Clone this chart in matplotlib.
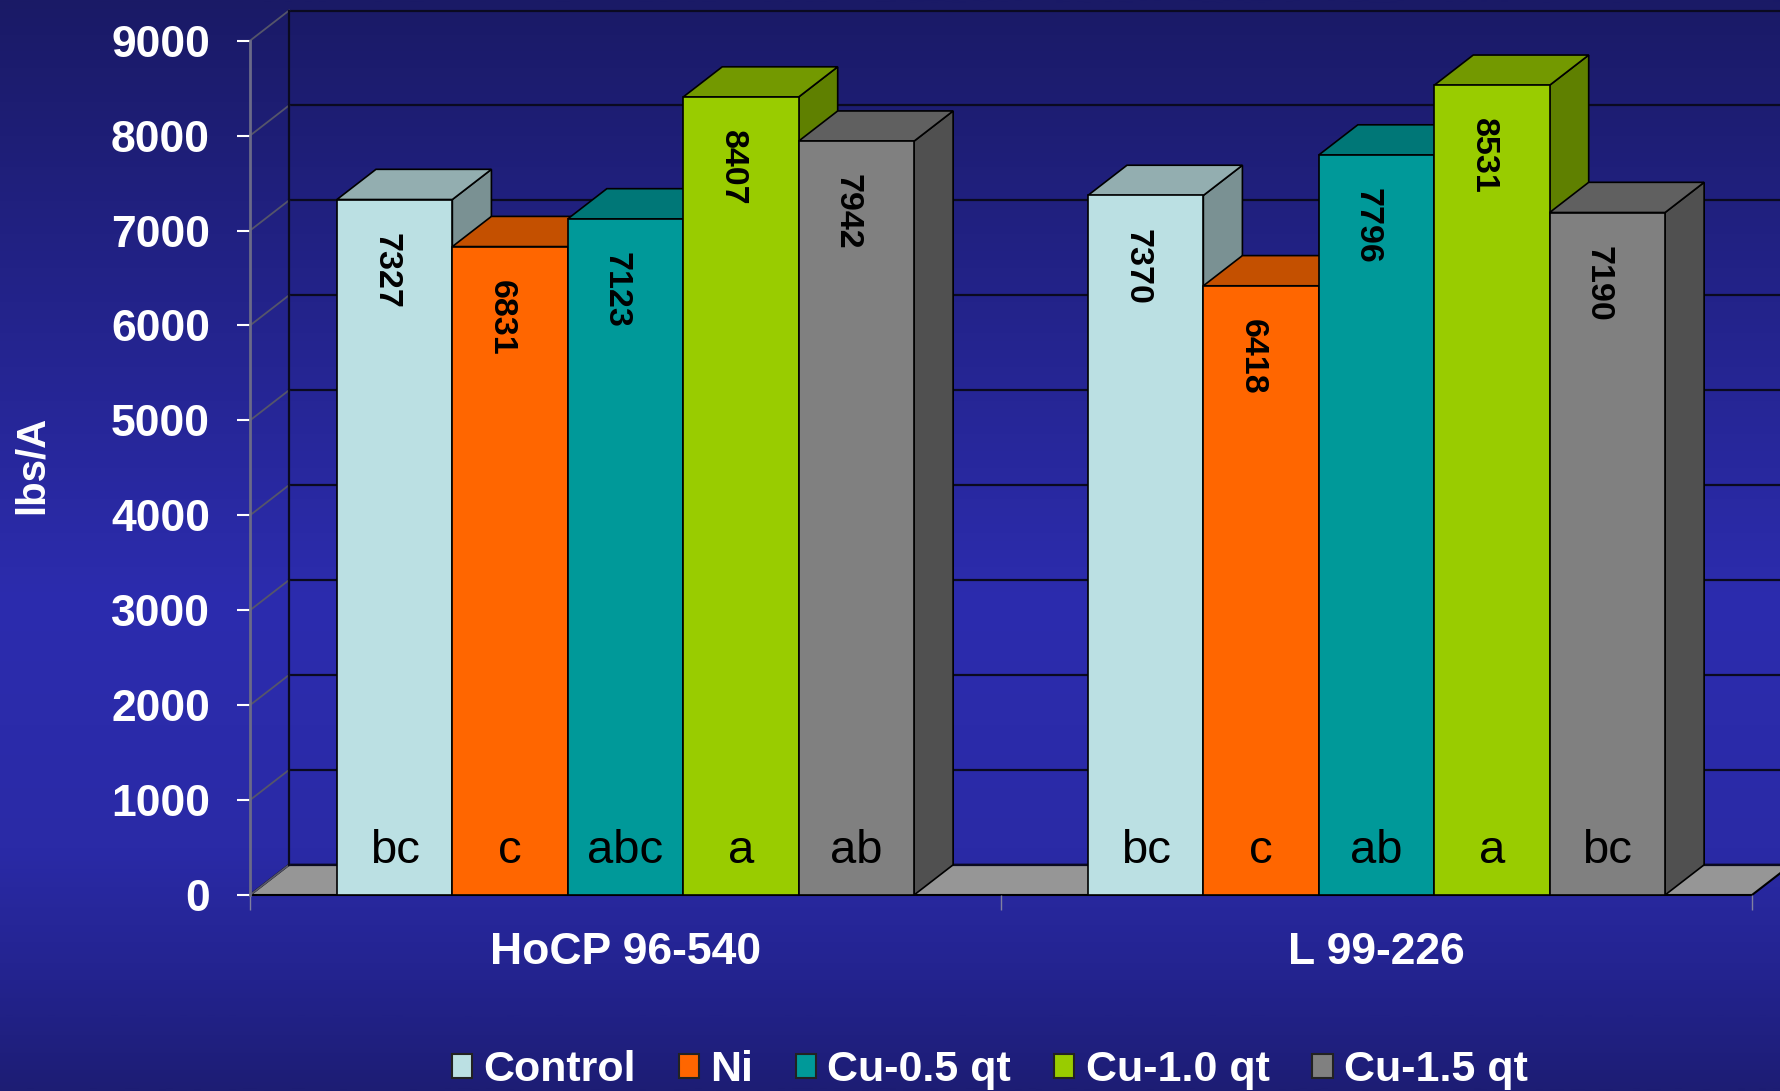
import numpy as np
import matplotlib
matplotlib.use("Agg")
import matplotlib.pyplot as plt
from matplotlib.patches import Patch
from matplotlib.colors import LinearSegmentedColormap

# ---------------- data ----------------
categories = ["HoCP 96-540", "L 99-226"]
series = ["Control", "Ni", "Cu-0.5 qt", "Cu-1.0 qt", "Cu-1.5 qt"]
control = [7327, 7370]
ni = [6831, 6418]
cu05 = [7123, 7796]
cu10 = [8407, 8531]
cu15 = [7942, 7190]
letters_control = ["bc", "bc"]
letters_ni = ["c", "c"]
letters_cu05 = ["abc", "ab"]
letters_cu10 = ["a", "a"]
letters_cu15 = ["ab", "bc"]
yticks = [0, 1000, 2000, 3000, 4000, 5000, 6000, 7000, 8000, 9000]
ylabel = "lbs/A"

values = [control, ni, cu05, cu10, cu15]
letters = [letters_control, letters_ni, letters_cu05, letters_cu10, letters_cu15]

# ---------------- styles ----------------
front_colors = ["#BBE0E3", "#FF6600", "#009999", "#99CC00", "#808080"]
top_colors = ["#93AEB0", "#C45000", "#007777", "#739900", "#606060"]
side_colors = ["#7A9193", "#A34200", "#006666", "#5F8000", "#505050"]

plt.rcParams['font.family'] = ['Liberation Sans', 'DejaVu Sans']

W, H = 1780, 1091
fig = plt.figure(figsize=(W / 100, H / 100), dpi=100)

# background gradient
bg = fig.add_axes([0, 0, 1, 1])
bg.set_zorder(0)
cmap = LinearSegmentedColormap.from_list(
    "bgc", [(0.0, "#1a1a66"), (0.55, "#2c2cae"), (0.78, "#2a2aa6"),
            (0.9, "#23238e"), (1.0, "#1d1d74")])
grad = np.linspace(0, 1, 512).reshape(-1, 1)
bg.imshow(grad, aspect="auto", cmap=cmap, extent=[0, 1, 0, 1], origin="upper")
bg.set_axis_off()

# main axes (front plane)
x0, x1 = 250, 1752
y0, y9 = 895, 40.7
ax = fig.add_axes([x0 / W, (H - y0) / H, (x1 - x0) / W, (y0 - y9) / H])
ax.set_zorder(1)
ax.patch.set_alpha(0)
ax.set_xlim(-0.5, 1.5)
ax.set_ylim(0, 9000)
for s in ax.spines.values():
    s.set_visible(False)

DX = 0.052   # depth offset in category units
DY = 318     # depth offset in value units
ncat = len(categories)
nser = len(series)
BW = 0.1537
xc = np.arange(ncat)

# floor
ax.fill([-0.5, 1.5, 1.5 + DX, -0.5 + DX], [0, 0, DY, DY], facecolor="#969696",
        edgecolor="black", lw=1.5, zorder=1, clip_on=False)

# back wall grid + side wall
for v in yticks:
    ax.plot([-0.5 + DX, 1.6], [v + DY, v + DY], color="#0a0a20", lw=1.6,
            zorder=1.5, clip_on=False)
    ax.plot([-0.5, -0.5 + DX], [v, v + DY], color="#55556a", lw=1.3,
            zorder=1.5, clip_on=False)
ax.plot([-0.5 + DX, -0.5 + DX], [DY, 9000 + DY], color="#0a0a20", lw=1.6,
        zorder=1.5, clip_on=False)
ax.plot([-0.5, -0.5], [0, 9000], color="#6a6a88", lw=2.0, zorder=1.6,
        clip_on=False)

# bars
for i in range(nser):
    xs = xc + (i - 2) * BW
    for j in range(ncat):
        v = values[i][j]
        xl = xs[j] - BW / 2
        xr = xs[j] + BW / 2
        ax.fill([xr, xr + DX, xr + DX, xr], [0, DY, v + DY, v],
                facecolor=side_colors[i], edgecolor="black", lw=1.2,
                zorder=2 + 3 * i, clip_on=False)
        ax.fill([xl, xr, xr + DX, xl + DX], [v, v, v + DY, v + DY],
                facecolor=top_colors[i], edgecolor="black", lw=1.2,
                zorder=3 + 3 * i, clip_on=False)
    ax.bar(xs, values[i], width=BW, color=front_colors[i], edgecolor="black",
           lw=1.2, zorder=4 + 3 * i)
    for j in range(ncat):
        ax.text(xs[j] - 0.012, values[i][j] - 350, f"{values[i][j]}",
                rotation=270, ha="center", va="top", fontsize=24.5,
                fontweight="bold", color="black", zorder=100)
        ax.text(xs[j], 340, letters[i][j], ha="center", va="baseline",
                fontsize=34, color="black", zorder=100)

# y axis ticks
ax.set_yticks(yticks)
ax.set_yticklabels([str(t) for t in yticks], fontweight="bold")
ax.tick_params(axis="y", length=9.4, width=1.5, color="white", pad=19.4,
               labelsize=32, labelcolor="white")

# x axis
ax.set_xticks(xc)
ax.set_xticklabels(categories, fontweight="bold")
ax.tick_params(axis="x", which="major", length=0, pad=27, labelsize=32,
               labelcolor="white")
ax.set_xticks([-0.5, 0.5, 1.5], minor=True)
ax.tick_params(axis="x", which="minor", length=11, width=1, color="#8080a0")

fig.text(32 / W, 1 - 465 / H, ylabel, rotation=90, ha="center", va="center",
         fontsize=29, fontweight="bold", color="white")

handles = [Patch(facecolor=c, edgecolor="#222222", lw=1.5) for c in front_colors]
leg = fig.legend(handles, series, loc="center", bbox_to_anchor=(0.556, 0.019),
                 ncol=5, frameon=False, prop={"weight": "bold", "size": 31},
                 handlelength=0.47, handleheight=0.47, handletextpad=0.26,
                 columnspacing=1.0, borderpad=0, labelcolor="white")

fig.savefig("out.png", dpi=100)
